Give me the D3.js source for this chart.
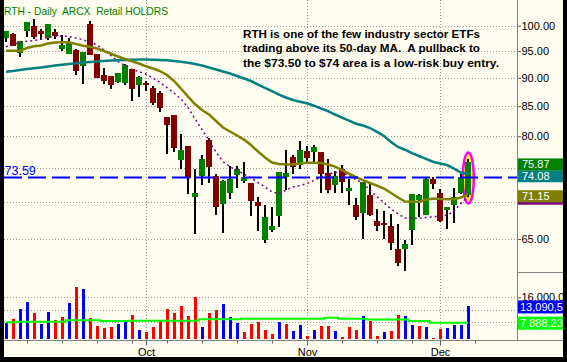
<!DOCTYPE html>
<html>
<head>
<meta charset="utf-8">
<script src="https://cdn.jsdelivr.net/npm/d3@7"></script>
<style>
html, body { margin: 0; padding: 0; background: #000; }
svg { display: block; font-family: "Liberation Sans", Arial, sans-serif; }
text.pre { white-space: pre; }
</style>
</head>
<body>
<svg id="chart" width="567" height="362"></svg>
<script>
// RTH daily, Sep 3 - Dec 5 2008
var dates = [
  "2008-09-03","2008-09-04","2008-09-05","2008-09-08","2008-09-09","2008-09-10","2008-09-11","2008-09-12",
  "2008-09-15","2008-09-16","2008-09-17","2008-09-18","2008-09-19","2008-09-22","2008-09-23","2008-09-24",
  "2008-09-25","2008-09-26","2008-09-29","2008-09-30","2008-10-01","2008-10-02","2008-10-03","2008-10-06",
  "2008-10-07","2008-10-08","2008-10-09","2008-10-10","2008-10-13","2008-10-14","2008-10-15","2008-10-16",
  "2008-10-17","2008-10-20","2008-10-21","2008-10-22","2008-10-23","2008-10-24","2008-10-27","2008-10-28",
  "2008-10-29","2008-10-30","2008-10-31","2008-11-03","2008-11-04","2008-11-05","2008-11-06","2008-11-07",
  "2008-11-10","2008-11-11","2008-11-12","2008-11-13","2008-11-14","2008-11-17","2008-11-18","2008-11-19",
  "2008-11-20","2008-11-21","2008-11-24","2008-11-25","2008-11-26","2008-11-28","2008-12-01","2008-12-02",
  "2008-12-03","2008-12-04","2008-12-05"];
var futureDates = ["2008-12-08","2008-12-09","2008-12-10","2008-12-11","2008-12-12"];

var opens = [97.60,98.40,94.70,98.94,99.94,98.94,97.60,98.74,95.40,94.50,95.21,92.24,100.34,94.44,90.53,90.35,
  89.27,89.09,91.63,88.73,89.14,88.20,87.31,83.19,83.52,76.25,78.43,70.77,73.83,79.38,73.83,69.78,
  71.35,73.98,73.09,72.80,70.06,64.90,66.22,68.11,73.68,76.72,75.49,77.65,77.49,77.49,74.28,72.51,
  74.88,71.63,69.64,68.53,71.06,67.43,67.16,66.76,63.72,63.72,66.22,70.35,68.25,73.39,71.35,68.94,
  69.64,71.39,71.06];
var highs = [98.94,98.60,96.90,100.75,101.36,99.34,100.34,99.24,98.08,97.60,95.40,94.83,100.95,94.44,91.76,90.35,
  90.90,92.61,91.63,90.35,89.45,88.55,87.67,83.19,83.52,80.35,78.43,74.88,77.03,79.70,74.13,73.20,
  75.34,75.34,75.95,72.80,70.77,69.64,69.36,74.43,77.80,76.95,79.22,78.43,78.59,77.49,76.41,74.58,
  75.49,73.43,70.63,72.94,72.80,69.08,68.80,68.39,67.03,64.90,71.15,71.15,73.60,73.68,71.92,69.36,
  72.07,74.13,76.41];
var lows = [96.82,95.98,93.82,97.80,97.35,97.15,97.25,97.35,95.08,94.50,90.53,88.96,94.25,89.99,88.91,88.02,
  89.09,88.73,85.92,86.61,87.67,85.23,84.03,77.18,77.49,74.88,71.20,65.69,72.51,72.80,68.25,65.82,
  70.49,72.07,72.80,68.11,66.09,64.50,65.95,66.62,71.78,74.13,74.88,75.79,75.95,71.35,71.39,71.35,
  71.39,69.64,67.57,65.03,68.11,66.09,65.03,63.60,61.55,60.94,64.24,67.98,68.25,71.92,67.30,66.35,
  67.16,71.20,70.77];
var closes = [98.94,96.04,96.90,100.75,97.74,98.40,100.34,98.00,96.18,96.82,91.32,94.83,94.31,90.04,89.45,88.73,
  90.90,92.37,88.02,90.17,88.78,85.57,84.71,81.82,78.12,77.80,73.50,71.35,76.41,75.19,69.36,73.09,
  73.39,74.88,73.68,70.21,69.50,67.98,66.76,74.43,74.28,75.19,77.80,76.56,78.27,74.13,71.78,73.83,
  72.99,72.07,67.98,72.94,68.25,66.76,66.89,64.50,61.92,64.37,71.15,71.00,73.43,72.65,67.43,69.36,
  70.77,73.68,75.87];

// volume in millions of shares
var volumes = [7.70,9.07,12.27,14.50,10.99,7.48,11.31,8.75,9.71,14.19,19.30,18.66,9.39,6.84,6.20,6.52,
  7.48,8.12,10.35,5.56,4.92,6.52,8.43,12.27,10.99,13.23,10.03,16.10,6.52,10.99,11.95,13.87,
  9.71,7.80,4.92,7.48,8.12,5.56,4.28,8.12,7.48,5.24,7.16,3.64,5.56,6.84,6.84,5.24,
  3.32,6.52,5.56,10.03,8.43,3.64,4.92,5.24,10.35,10.03,7.16,6.84,6.52,3.10,5.88,6.20,
  7.16,7.16,13.090526];
var volumeAvg = [8.02,8.02,8.21,8.21,8.21,8.21,8.21,8.21,8.21,8.66,8.66,8.66,8.66,8.66,8.43,8.43,
  8.43,8.43,8.53,8.53,8.53,8.53,8.53,8.53,8.53,8.53,8.53,8.53,8.98,8.98,8.98,8.98,
  8.98,8.98,9.17,9.17,9.17,9.17,9.17,9.17,9.17,9.17,9.17,9.17,9.17,9.17,9.49,9.49,
  9.17,9.17,9.17,9.17,8.90,8.90,8.90,8.90,8.90,8.90,8.43,8.43,8.43,7.88823,7.88823,7.88823,
  7.88823,7.88823,7.88823];

var ma50 = [91.13,91.25,91.44,91.62,91.75,91.90,92.09,92.27,92.41,92.55,92.69,92.84,92.93,93.02,93.12,93.19,
  93.25,93.31,93.34,93.38,93.38,93.36,93.32,93.25,93.12,92.97,92.78,92.55,92.27,91.90,91.53,91.16,
  90.80,90.34,89.88,89.43,88.80,88.21,87.64,87.02,86.50,86.06,85.77,85.49,85.08,84.60,84.17,83.58,
  83.07,82.57,82.04,81.74,81.33,80.71,80.03,79.06,78.27,77.84,77.32,76.86,76.42,75.98,75.70,75.47,
  74.94,74.34,74.08];
var ma20 = [95.07,95.07,95.07,95.59,95.92,96.08,96.47,96.66,96.70,96.70,96.37,96.04,95.85,95.50,95.02,94.50,
  93.97,93.49,93.06,92.65,92.13,91.72,91.25,90.52,89.43,88.08,86.67,85.37,84.34,83.58,82.49,81.41,
  80.76,80.11,79.46,78.58,77.56,76.62,75.85,75.62,75.55,75.55,75.70,75.82,75.82,75.78,75.55,75.24,
  74.71,74.19,73.66,73.22,72.78,72.41,71.97,71.32,70.68,70.11,70.08,70.08,70.32,70.53,70.46,70.42,
  70.42,70.68,71.15];
var ma10 = [95.85,96.27,96.70,96.90,97.05,97.31,97.68,97.88,97.94,97.84,97.55,97.19,96.82,96.18,95.21,94.16,
  93.02,92.27,91.53,91.16,90.70,89.97,89.16,88.26,87.29,86.24,84.77,82.82,81.08,79.30,77.48,75.98,
  75.21,74.64,74.11,73.52,72.85,72.19,71.47,71.25,71.75,72.19,72.41,72.70,73.15,73.66,74.11,74.38,
  74.34,73.89,73.29,72.73,71.75,70.79,69.95,69.04,68.41,67.81,67.77,67.77,67.88,67.99,68.08,68.22,
  68.77,69.89,70.79];

var priceTicks = [65, 70, 75, 80, 85, 90, 95, 100];
var volumeTicks = [8, 12, 16];
var levelPrice = 73.59;
var titleText = "RTH - Daily  ARCX  Retail HOLDRS";
var noteLines = ["RTH is one of the few industry sector ETFs",
                 "trading above its 50-day MA.  A pullback to",
                 "the $73.50 to $74 area is a low-risk buy entry."];

var svg = d3.select("#chart");
var left = 4, plotRight = 517, right = 563, priceBottom = 272, volBottom = 340, bottom = 357;
var n = dates.length;
var last = n - 1;

svg.append("rect").attr("x", left).attr("y", 0)
  .attr("width", right - left).attr("height", bottom).attr("fill", "#fffcf0");

var parseDate = d3.timeParse("%Y-%m-%d");
var allDates = dates.concat(futureDates);
var x = d3.scalePoint().domain(allDates).range([6, 6 + 7 * (allDates.length - 1)]);
var yPrice = d3.scaleLog().domain([65, 100]).range([239, 25.7]);
var yVol = d3.scaleLinear().domain([0, 25]).range([347.4, 269.15]);

var mondays = allDates.filter(function(d){ return parseDate(d).getDay() === 1; });
var monthStarts = allDates.filter(function(d, i){
  return i > 0 && parseDate(d).getMonth() !== parseDate(allDates[i-1]).getMonth();
});

// value boxes on the right scale (defined early so covered tick labels can be skipped)
var priceBoxes = [
  {value: ma10[last], color: "#800080"},
  {value: ma20[last], color: "#808000"},
  {value: ma50[last], color: "#008080"},
  {value: closes[last], color: "#008000"}
];
var volBoxes = [
  {value: volumes[last], color: "#0000ff"},
  {value: volumeAvg[last], color: "#00ff00"}
];
function priceBoxTop(v){ return yPrice(v) - 4; }
function volBoxTop(v){ return yVol(v) - 6; }
function coveredPrice(t){
  var y = yPrice(t);
  return priceBoxes.some(function(b){ var top = priceBoxTop(b.value); return y > top - 3 && y < top + 15; });
}
function coveredVol(t){
  var y = yVol(t);
  return volBoxes.some(function(b){ var top = volBoxTop(b.value); return y > top - 3 && y < top + 16; });
}

var defs = svg.append("defs");
defs.append("clipPath").attr("id", "clipPrice").append("rect")
  .attr("x", left).attr("y", 0).attr("width", plotRight - left).attr("height", priceBottom);
defs.append("clipPath").attr("id", "clipVol").append("rect")
  .attr("x", left).attr("y", priceBottom).attr("width", plotRight - left).attr("height", volBottom - 1 - priceBottom);

// grid
var grid = svg.append("g").attr("stroke", "#9a9a9a").attr("stroke-dasharray", "1,2");
grid.selectAll(".hp").data(priceTicks).enter().append("line")
  .attr("x1", left).attr("x2", plotRight)
  .attr("y1", function(d){ return Math.round(yPrice(d)) + 0.5; })
  .attr("y2", function(d){ return Math.round(yPrice(d)) + 0.5; });
grid.selectAll(".hv").data(volumeTicks).enter().append("line")
  .attr("x1", left).attr("x2", plotRight)
  .attr("y1", function(d){ return Math.round(yVol(d)) + 0.5; })
  .attr("y2", function(d){ return Math.round(yVol(d)) + 0.5; });
grid.selectAll(".vm").data(monthStarts).enter().append("line")
  .attr("x1", function(d){ return x(d) + 0.5; }).attr("x2", function(d){ return x(d) + 0.5; })
  .attr("y1", 0).attr("y2", volBottom);

// title + note
svg.append("text").attr("class", "pre").attr("x", 4).attr("y", 15).attr("fill", "#008000")
  .attr("font-size", "11px").attr("textLength", 164).attr("lengthAdjust", "spacingAndGlyphs")
  .text(titleText);
var noteWidths = [237, 237, 256];
svg.selectAll(".note").data(noteLines).enter().append("text")
  .attr("class", "pre")
  .attr("x", 243).attr("y", function(d, i){ return 37.5 + i * 14.7; })
  .attr("font-size", "11px").attr("font-weight", "bold").attr("fill", "#000")
  .attr("textLength", function(d, i){ return noteWidths[i]; }).attr("lengthAdjust", "spacingAndGlyphs")
  .text(function(d){ return d; });

// price panel
var priceG = svg.append("g").attr("clip-path", "url(#clipPrice)");

var yHi = yPrice(highs[last]), yLo = yPrice(lows[last]);
priceG.append("ellipse")
  .attr("cx", x(dates[last]) + 0.3).attr("cy", (yHi + yLo) / 2)
  .attr("rx", 5.5).attr("ry", (yLo - yHi) / 2 + 6.5)
  .attr("fill", "#ffff00").attr("stroke", "#ff00ff").attr("stroke-width", 2.5);

var candles = priceG.selectAll(".candle").data(dates).enter().append("g")
  .attr("shape-rendering", "crispEdges");
candles.append("rect")
  .attr("x", function(d){ return x(d) - 1; }).attr("width", 2)
  .attr("y", function(d, i){ return yPrice(highs[i]); })
  .attr("height", function(d, i){ return Math.max(1, yPrice(lows[i]) - yPrice(highs[i])); })
  .attr("fill", "#000");
candles.append("rect")
  .attr("x", function(d){ return x(d) - 3; }).attr("width", 6)
  .attr("y", function(d, i){ return yPrice(Math.max(opens[i], closes[i])); })
  .attr("height", function(d, i){ return Math.max(2, Math.abs(yPrice(opens[i]) - yPrice(closes[i]))); })
  .attr("fill", function(d, i){ return closes[i] >= opens[i] ? "#008000" : "#800000"; });

function maLine(values){
  return d3.line()
    .x(function(d, i){ return x(dates[i]); })
    .y(function(d){ return yPrice(d); })(values);
}
priceG.append("path").attr("d", maLine(ma10)).attr("fill", "none")
  .attr("stroke", "#800080").attr("stroke-width", 1.5).attr("stroke-dasharray", "2,3");
priceG.append("path").attr("d", maLine(ma50)).attr("fill", "none")
  .attr("stroke", "#008080").attr("stroke-width", 2.5);
priceG.append("path").attr("d", maLine(ma20)).attr("fill", "none")
  .attr("stroke", "#808000").attr("stroke-width", 2.5);

priceG.append("line")
  .attr("x1", left).attr("x2", plotRight)
  .attr("y1", yPrice(levelPrice)).attr("y2", yPrice(levelPrice))
  .attr("stroke", "#0000ff").attr("stroke-width", 2).attr("stroke-dasharray", "18,6");
svg.append("text").attr("x", 4.5).attr("y", yPrice(levelPrice) - 2.5)
  .attr("font-size", "12.5px").attr("fill", "#0000ff").text(d3.format(".2f")(levelPrice));

// volume panel
var volG = svg.append("g").attr("clip-path", "url(#clipVol)");
volG.selectAll(".vbar").data(dates).enter().append("rect")
  .attr("shape-rendering", "crispEdges")
  .attr("x", function(d){ return x(d) - 1; }).attr("width", 3)
  .attr("y", function(d, i){ return yVol(volumes[i]); })
  .attr("height", function(d, i){ return Math.max(0, volBottom - 1 - yVol(volumes[i])); })
  .attr("fill", function(d, i){
    var up = i === 0 ? closes[i] > opens[i] : closes[i] > closes[i-1];
    return up ? "#0000ff" : "#ff0000";
  });
volG.append("path")
  .attr("d", d3.line().curve(d3.curveStep)
    .x(function(d, i){ return x(dates[i]); })
    .y(function(d){ return yVol(d); })(volumeAvg))
  .attr("fill", "none").attr("stroke", "#00ff00").attr("stroke-width", 2);

// frame lines
var frame = svg.append("g").attr("stroke", "#808080").attr("shape-rendering", "crispEdges");
frame.append("line").attr("x1", plotRight + 0.5).attr("x2", plotRight + 0.5).attr("y1", 0).attr("y2", volBottom);
frame.append("line").attr("x1", plotRight).attr("x2", right).attr("y1", priceBottom + 0.5).attr("y2", priceBottom + 0.5);
frame.append("line").attr("x1", left).attr("x2", right).attr("y1", volBottom + 0.5).attr("y2", volBottom + 0.5);

// axes
var xWeek = svg.append("g").attr("transform", "translate(0," + (volBottom + 0.5) + ")")
  .call(d3.axisBottom(x).tickValues(mondays).tickSize(3).tickFormat(""));
var xMonth = svg.append("g").attr("transform", "translate(0," + (volBottom + 0.5) + ")")
  .call(d3.axisBottom(x).tickValues(monthStarts).tickSize(5).tickPadding(3)
    .tickFormat(function(d){ return d3.timeFormat("%b")(parseDate(d)); }));

var pAxis = svg.append("g").attr("transform", "translate(" + (plotRight + 0.5) + ",0)")
  .call(d3.axisRight(yPrice).tickValues(priceTicks).tickSize(3.5).tickPadding(0.5)
    .tickFormat(function(d){ return coveredPrice(d) ? "" : d3.format(".2f")(d); }));
var vAxis = svg.append("g").attr("transform", "translate(" + (plotRight + 0.5) + ",0)")
  .call(d3.axisRight(yVol).tickValues(volumeTicks).tickSize(3.5).tickPadding(0.5)
    .tickFormat(function(d){ return coveredVol(d) ? "" : d3.format(",")(d * 1e6); }));

[xWeek, xMonth, pAxis, vAxis].forEach(function(g){
  g.select(".domain").remove();
  g.selectAll(".tick line").attr("stroke", "#606060");
  g.selectAll("text").attr("fill", "#000").attr("font-size", "11px")
    .attr("font-family", "'Liberation Sans', Arial, sans-serif");
});

var pb = svg.selectAll(".pbox").data(priceBoxes).enter().append("g");
pb.append("rect").attr("x", plotRight + 1).attr("width", right - plotRight)
  .attr("y", function(d){ return priceBoxTop(d.value); }).attr("height", 12)
  .attr("fill", function(d){ return d.color; });
pb.filter(function(d, i){ return i > 0; }).append("text")
  .attr("x", 522).attr("y", function(d){ return priceBoxTop(d.value) + 10; })
  .attr("font-size", "11px").attr("fill", "#fff")
  .text(function(d){ return d3.format(".2f")(d.value); });

var vb = svg.selectAll(".vbox").data(volBoxes).enter().append("g");
vb.append("rect").attr("x", plotRight + 1).attr("width", right - plotRight)
  .attr("y", function(d){ return volBoxTop(d.value); }).attr("height", 13)
  .attr("fill", function(d){ return d.color; });
vb.append("text").attr("x", 520).attr("y", function(d){ return volBoxTop(d.value) + 10.5; })
  .attr("font-size", "11px").attr("fill", "#fff")
  .text(function(d){ return d3.format(",")(Math.round(d.value * 1e6)); });

// black border over the edges
svg.append("rect").attr("x", 0).attr("y", 0).attr("width", left).attr("height", 362).attr("fill", "#000");
svg.append("rect").attr("x", right).attr("y", 0).attr("width", 567 - right).attr("height", 362).attr("fill", "#000");
svg.append("rect").attr("x", 0).attr("y", bottom).attr("width", 567).attr("height", 362 - bottom).attr("fill", "#000");
</script>
</body>
</html>
